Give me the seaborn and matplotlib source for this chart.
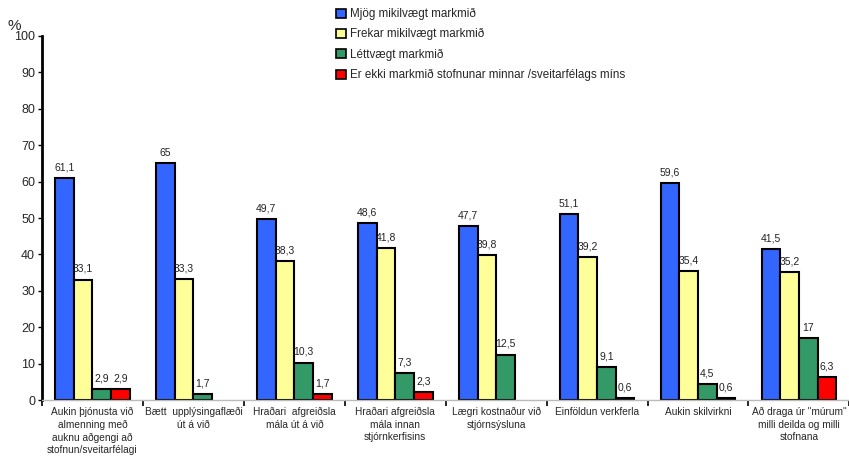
import matplotlib
matplotlib.use('Agg')
import matplotlib.pyplot as plt
import seaborn as sns
import pandas as pd
import numpy as np
from matplotlib.patches import Patch

# Data
categories = [
    'Aukin þjónusta við\nalmenning með\nauknu aðgengi að\nstofnun/sveitarfélagi',
    'Bætt  upplýsingaflæði\nút á við',
    'Hraðari  afgreiðsla\nmála út á við',
    'Hraðari afgreiðsla\nmála innan\nstjórnkerfisins',
    'Lægri kostnaður við\nstjórnsýsluna',
    'Einföldun verkferla',
    'Aukin skilvirkni',
    'Að draga úr "múrum"\nmilli deilda og milli\nstofnana',
]
series = [
    'Mjög mikilvægt markmið',
    'Frekar mikilvægt markmið',
    'Léttvægt markmið',
    'Er ekki markmið stofnunar minnar /sveitarfélags míns',
]
mjog = [61.1, 65, 49.7, 48.6, 47.7, 51.1, 59.6, 41.5]
frekar = [33.1, 33.3, 38.3, 41.8, 39.8, 39.2, 35.4, 35.2]
lettvaegt = [2.9, 1.7, 10.3, 7.3, 12.5, 9.1, 4.5, 17]
ekki = [2.9, np.nan, 1.7, 2.3, np.nan, 0.6, 0.6, 6.3]
colors = ['#3366FF', '#FFFF99', '#339966', '#FF0000']

rows = []
for name, vals in zip(series, [mjog, frekar, lettvaegt, ekki]):
    for cat, v in zip(categories, vals):
        rows.append({'cat': cat, 'series': name, 'value': v})
df = pd.DataFrame(rows)

sns.set_theme(style='white')
plt.rcParams['font.family'] = ['Liberation Sans', 'DejaVu Sans']

fig = plt.figure(figsize=(8.49, 4.58), dpi=100)
ax = fig.add_axes([0.0495, 0.1266, 0.951, 0.7948])

sns.barplot(data=df, x='cat', y='value', hue='series', hue_order=series,
            order=categories, palette=colors, saturation=1, width=0.74,
            dodge=True, edgecolor='black', linewidth=1.5, errorbar=None,
            ax=ax, legend=False)

for cont in ax.containers:
    ax.bar_label(cont, fmt=lambda v: f'{v:g}'.replace('.', ','),
                 padding=4, fontsize=7.5, color='#222222')

ax.set_ylim(0, 100)
ax.set_xlim(-0.5, len(categories) - 0.5)
ax.set_yticks(range(0, 101, 10))
ax.tick_params(axis='y', labelsize=9, length=3, width=1, left=True,
               direction='out', color='black', pad=2)
ax.set_xticks(range(len(categories)))
ax.set_xticklabels(categories, fontsize=7.3, linespacing=1.32)
ax.tick_params(axis='x', which='major', length=0, pad=5)
ax.set_xticks(np.arange(-0.5, len(categories), 1), minor=True)
ax.tick_params(axis='x', which='minor', length=4, width=1.2,
               bottom=True, direction='out', color='black')
ax.set_xlabel('')
ax.set_ylabel('')

for s in ['top', 'right']:
    ax.spines[s].set_visible(False)
ax.spines['left'].set_color('black')
ax.spines['left'].set_linewidth(2)
ax.spines['bottom'].set_color('#bbbbbb')
ax.spines['bottom'].set_linewidth(1)

fig.text(0.009, 0.935, '%', fontsize=11)

handles = [Patch(facecolor=c, edgecolor='black', linewidth=1.2) for c in colors]
fig.legend(handles, series, loc='upper left', bbox_to_anchor=(0.388, 0.998),
           frameon=False, fontsize=8.4, handlelength=0.8, handleheight=0.8,
           handletextpad=0.4, labelspacing=0.7, borderaxespad=0.2)

fig.savefig('out.png', dpi=100)
